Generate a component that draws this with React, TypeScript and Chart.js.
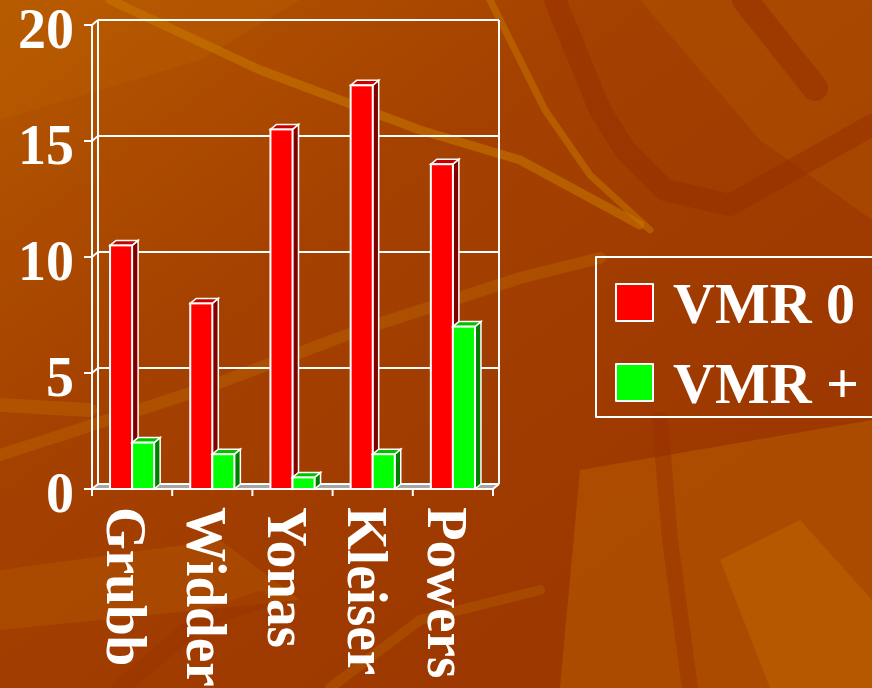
import React, { useEffect, useRef } from "react";
import { Chart, registerables } from "chart.js";

Chart.register(...registerables);

// ---- data ----
const categories = ["Grubb", "Widder", "Yonas", "Kleiser", "Powers"];
const seriesNames = ["VMR 0", "VMR +"];
const vmrZero = [10.5, 8, 15.5, 17.4, 14];
const vmrPlus = [2, 1.5, 0.5, 1.5, 7];
const yTickValues = [0, 5, 10, 15, 20];

// ---- styling ----
const FACE = ["#ff0000", "#00ff00"];
const SIDE = ["#800000", "#008000"];
const TOP = ["#c80000", "#00c000"];
const WHITE = "#ffffff";
const FONT = "'Liberation Serif', 'Times New Roman', serif";
const DX = 6; // depth of the 3D box, to the right
const DY = 5; // depth of the 3D box, upwards

function drawBackground(ctx: CanvasRenderingContext2D, w: number, h: number) {
  const g = ctx.createLinearGradient(0, 0, w * 0.6, h);
  g.addColorStop(0, "#b55800");
  g.addColorStop(0.45, "#a44000");
  g.addColorStop(1, "#9c3800");
  ctx.fillStyle = g;
  ctx.fillRect(0, 0, w, h);

  const poly = (pts: number[][], color: string) => {
    ctx.beginPath();
    ctx.moveTo(pts[0][0], pts[0][1]);
    for (let i = 1; i < pts.length; i++) ctx.lineTo(pts[i][0], pts[i][1]);
    ctx.closePath();
    ctx.fillStyle = color;
    ctx.fill();
  };
  const stroke = (pts: number[][], color: string, width: number) => {
    ctx.beginPath();
    ctx.moveTo(pts[0][0], pts[0][1]);
    for (let i = 1; i < pts.length; i++) ctx.lineTo(pts[i][0], pts[i][1]);
    ctx.strokeStyle = color;
    ctx.lineWidth = width;
    ctx.lineJoin = "round";
    ctx.lineCap = "round";
    ctx.stroke();
  };

  // broad lighter patches
  poly([[0, 0], [300, 0], [200, 60], [0, 120]], "rgba(190,100,0,0.3)");
  poly([[640, 0], [872, 0], [872, 220], [760, 140]], "rgba(185,95,0,0.3)");
  poly([[580, 470], [872, 420], [872, 688], [560, 688]], "rgba(195,105,0,0.4)");
  poly([[0, 570], [220, 540], [300, 600], [0, 630]], "rgba(190,100,0,0.3)");
  poly([[720, 560], [800, 520], [872, 600], [872, 688], [770, 688]], "rgba(205,120,0,0.3)");

  // darker branches
  stroke([[555, 0], [600, 110], [625, 150], [665, 190], [730, 205], [872, 125]], "rgba(150,45,0,0.5)", 22);
  stroke([[745, 0], [815, 88]], "rgba(150,45,0,0.55)", 26);
  stroke([[660, 420], [670, 540], [690, 688]], "rgba(150,45,0,0.4)", 16);
  stroke([[120, 688], [200, 620], [260, 600]], "rgba(150,45,0,0.3)", 18);

  // lighter branches
  stroke([[110, 0], [260, 70], [420, 130], [520, 160], [640, 225]], "rgba(200,120,0,0.55)", 9);
  stroke([[490, 0], [545, 110], [590, 175], [650, 230]], "rgba(200,120,0,0.5)", 7);
  stroke([[0, 455], [200, 390], [360, 330], [520, 278], [600, 258]], "rgba(200,120,0,0.3)", 12);
  stroke([[0, 405], [90, 410]], "rgba(200,120,0,0.3)", 14);
  stroke([[330, 688], [420, 620], [540, 590]], "rgba(200,120,0,0.25)", 10);
}

const boxPlugin = {
  id: "box3d",
  beforeDraw(chart: any) {
    drawBackground(chart.ctx, chart.width, chart.height);
  },
  beforeDatasetsDraw(chart: any) {
    const ctx: CanvasRenderingContext2D = chart.ctx;
    const { left, right, top, bottom } = chart.chartArea;
    const y = chart.scales.y;
    const x = chart.scales.x;
    ctx.save();

    // floor
    ctx.beginPath();
    ctx.moveTo(left, bottom);
    ctx.lineTo(left + DX, bottom - DY);
    ctx.lineTo(right + DX, bottom - DY);
    ctx.lineTo(right, bottom);
    ctx.closePath();
    ctx.fillStyle = "#a6a6a6";
    ctx.fill();

    ctx.strokeStyle = WHITE;
    ctx.lineWidth = 2;
    ctx.lineCap = "butt";

    // back wall grid lines and their left-wall diagonals with ticks
    yTickValues.forEach((v) => {
      const py = y.getPixelForValue(v);
      ctx.beginPath();
      ctx.moveTo(left + DX, py - DY);
      ctx.lineTo(right + DX, py - DY);
      ctx.stroke();
      ctx.beginPath();
      ctx.moveTo(left - 8, py);
      ctx.lineTo(left, py);
      ctx.lineTo(left + DX, py - DY);
      ctx.stroke();
    });

    // back wall verticals
    ctx.beginPath();
    ctx.moveTo(left + DX, top - DY);
    ctx.lineTo(left + DX, bottom - DY);
    ctx.moveTo(right + DX, top - DY);
    ctx.lineTo(right + DX, bottom - DY);
    ctx.stroke();

    // front value axis
    ctx.beginPath();
    ctx.moveTo(left, top);
    ctx.lineTo(left, bottom);
    ctx.stroke();

    // front category axis, ticks between categories
    ctx.beginPath();
    ctx.moveTo(left - 1, bottom);
    ctx.lineTo(right, bottom);
    ctx.lineTo(right + DX, bottom - DY);
    ctx.stroke();
    const n = categories.length;
    const step = x.getPixelForValue(1) - x.getPixelForValue(0);
    for (let i = 0; i <= n; i++) {
      const px = i < n ? x.getPixelForValue(i) - step / 2 : right;
      ctx.beginPath();
      ctx.moveTo(px, bottom);
      ctx.lineTo(px, bottom + 7);
      ctx.stroke();
    }
    ctx.restore();
  },
  afterDatasetsDraw(chart: any) {
    // bars are boxed category by category, first series first, so each
    // later bar sits in front of the side face of the one before it
    const ctx: CanvasRenderingContext2D = chart.ctx;
    const metas = [0, 1].map((i) => chart.getDatasetMeta(i));
    ctx.save();
    ctx.strokeStyle = WHITE;
    ctx.lineJoin = "miter";
    categories.forEach((_, ci) => {
      metas.forEach((meta, di) => {
        const bar = meta.data[ci];
        const { x, y, base, width } = bar.getProps(["x", "y", "base", "width"], true);
        const l = x - width / 2;
        const r = x + width / 2;
        ctx.lineWidth = 1.5;
        // side face
        ctx.beginPath();
        ctx.moveTo(r, y);
        ctx.lineTo(r + DX, y - DY);
        ctx.lineTo(r + DX, base - DY);
        ctx.lineTo(r, base);
        ctx.closePath();
        ctx.fillStyle = SIDE[di];
        ctx.fill();
        ctx.stroke();
        // top face
        ctx.beginPath();
        ctx.moveTo(l, y);
        ctx.lineTo(l + DX, y - DY);
        ctx.lineTo(r + DX, y - DY);
        ctx.lineTo(r, y);
        ctx.closePath();
        ctx.fillStyle = TOP[di];
        ctx.fill();
        ctx.stroke();
        // front face
        ctx.fillStyle = FACE[di];
        ctx.fillRect(l, y, width, base - y);
        ctx.lineWidth = 2;
        ctx.strokeRect(l, y, width, base - y);
      });
    });
    ctx.restore();
  },
  afterDraw(chart: any) {
    const ctx: CanvasRenderingContext2D = chart.ctx;
    const { left, bottom } = chart.chartArea;
    const y = chart.scales.y;
    const x = chart.scales.x;
    ctx.save();
    ctx.fillStyle = WHITE;

    // value labels
    ctx.font = `bold 56px ${FONT}`;
    ctx.textAlign = "right";
    ctx.textBaseline = "alphabetic";
    yTickValues.forEach((v) => {
      ctx.fillText(String(v), left - 18, y.getPixelForValue(v) + 23);
    });

    // category labels, reading downwards
    ctx.font = `bold 58px ${FONT}`;
    ctx.textAlign = "left";
    categories.forEach((c, i) => {
      ctx.save();
      ctx.translate(x.getPixelForValue(i) - 25, bottom + 18);
      ctx.rotate(Math.PI / 2);
      ctx.scale(0.95, 1);
      ctx.fillText(c, 0, 0);
      ctx.restore();
    });

    // legend
    const lx = 596;
    const ly = 257;
    ctx.strokeStyle = WHITE;
    ctx.lineWidth = 2;
    ctx.strokeRect(lx, ly, 300, 160);
    ctx.font = `bold 58px ${FONT}`;
    seriesNames.forEach((name, i) => {
      const sy = ly + 27 + i * 80;
      ctx.fillStyle = FACE[i];
      ctx.fillRect(lx + 20, sy, 37, 37);
      ctx.strokeRect(lx + 20, sy, 37, 37);
      ctx.fillStyle = WHITE;
      ctx.fillText(name, lx + 77, sy + 39);
    });
    ctx.restore();
  },
};

export default function App() {
  const canvasRef = useRef<HTMLCanvasElement | null>(null);

  useEffect(() => {
    const canvas = canvasRef.current;
    if (!canvas) return;
    const chart = new Chart(canvas, {
      type: "bar",
      data: {
        labels: categories,
        datasets: [
          {
            label: seriesNames[0],
            data: vmrZero,
            backgroundColor: FACE[0],
            borderWidth: 0,
            categoryPercentage: 0.55,
            barPercentage: 1,
          },
          {
            label: seriesNames[1],
            data: vmrPlus,
            backgroundColor: FACE[1],
            borderWidth: 0,
            categoryPercentage: 0.55,
            barPercentage: 1,
          },
        ],
      },
      options: {
        animation: false,
        responsive: false,
        devicePixelRatio: 1,
        layout: { padding: { left: 92, right: 379, top: 25, bottom: 199 } },
        scales: {
          x: { display: false },
          y: { display: false, min: 0, max: 20 },
        },
        plugins: {
          legend: { display: false },
          tooltip: { enabled: false },
        },
      },
      plugins: [boxPlugin],
    });
    return () => chart.destroy();
  }, []);

  return (
    <div style={{ position: "absolute", left: 0, top: 0, width: 872, height: 688, overflow: "hidden" }}>
      <canvas ref={canvasRef} width={872} height={688} style={{ display: "block" }} />
    </div>
  );
}
